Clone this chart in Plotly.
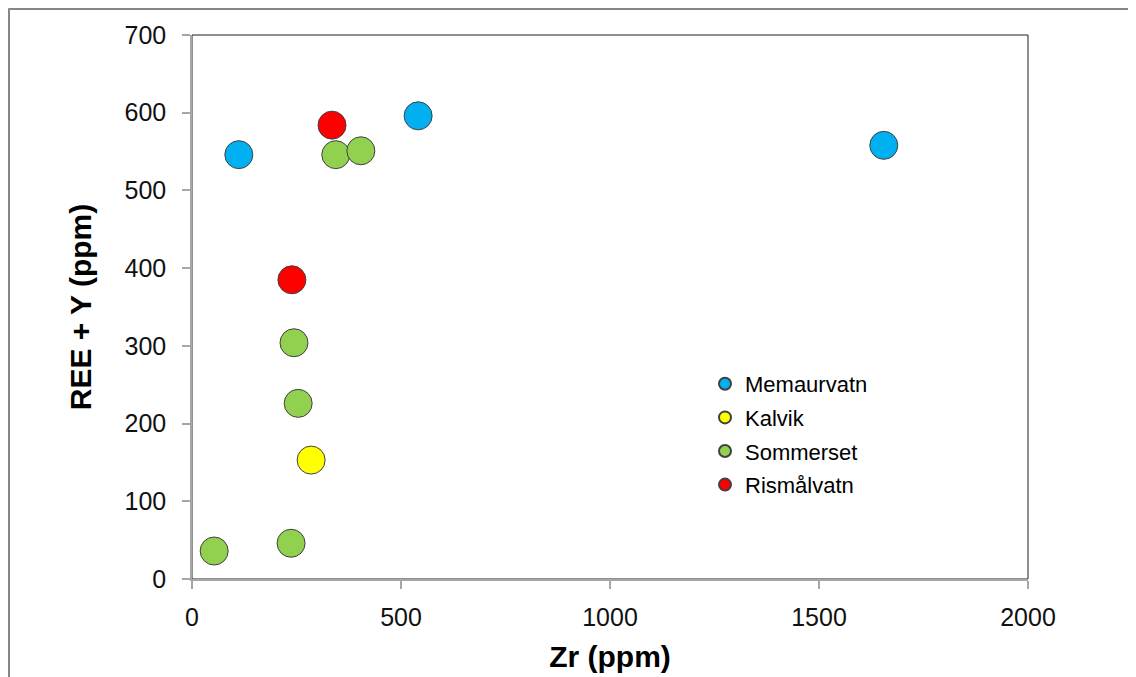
import plotly.graph_objects as go

series_names = ["Memaurvatn", "Kalvik", "Sommerset", "Rismålvatn"]
series_colors = ["#00B0F0", "#FFFF00", "#92D050", "#FF0000"]

memaurvatn_zr = [112, 541, 1655]
memaurvatn_ree = [546, 596, 558]
kalvik_zr = [285]
kalvik_ree = [153]
sommerset_zr = [344, 404, 244, 254, 53, 237]
sommerset_ree = [546, 551, 304, 226, 36, 46]
rismalvatn_zr = [335, 239]
rismalvatn_ree = [584, 385]

xs = [memaurvatn_zr, kalvik_zr, sommerset_zr, rismalvatn_zr]
ys = [memaurvatn_ree, kalvik_ree, sommerset_ree, rismalvatn_ree]

# page has an 8px body offset; compensate
OFF = 8
W, H = 1136, 677
L, T = 192 - OFF, 35 - OFF
pw, ph = 836, 544
R = W - L - pw
B = H - T - ph

fig = go.Figure()
for name, col, x, y in zip(series_names, series_colors, xs, ys):
    fig.add_trace(go.Scatter(
        x=x, y=y, mode="markers", name=name, legendgroup=name,
        marker=dict(size=28, color=col, line=dict(color="#404040", width=1)),
    ))

font_family = "Liberation Sans, Arial, sans-serif"
axis_common = dict(
    showgrid=False, zeroline=False, showline=True, linecolor="#A6A6A6", linewidth=1.5,
    ticks="outside", ticklen=8, tickcolor="#A6A6A6", tickwidth=1.5,
    tickfont=dict(family=font_family, size=25, color="#111111"),
)
fig.update_xaxes(range=[0, 2000], tickvals=[0, 500, 1000, 1500, 2000], ticklabelstandoff=7, **axis_common,
                 title=dict(text="<b>Zr (ppm)</b>", font=dict(family=font_family, size=30, color="#000000"), standoff=16))
fig.update_yaxes(range=[0, 700], tickvals=[0, 100, 200, 300, 400, 500, 600, 700], ticklabelstandoff=11, **axis_common,
                 title=dict(text="<b>REE + Y (ppm)</b>", font=dict(family=font_family, size=30, color="#000000"), standoff=24))

# plot area frame (top/right dark)
fig.add_shape(type="rect", xref="paper", yref="paper", x0=0, y0=0, x1=1, y1=1,
              line=dict(color="#202020", width=1), layer="below")
# outer chart frame (top and left visible)
x_left = (0.5 - L) / pw
y_top = (H - B - 0.5) / ph
fig.add_shape(type="line", xref="paper", yref="paper", x0=x_left, x1=(W - L) / pw + 0.01,
              y0=y_top, y1=y_top, line=dict(color="#868686", width=3))
fig.add_shape(type="line", xref="paper", yref="paper", x0=x_left, x1=x_left,
              y0=y_top, y1=-(B + 5) / ph, line=dict(color="#868686", width=3))

fig.update_layout(
    width=W, height=H,
    margin=dict(l=L, r=R, t=T, b=B),
    paper_bgcolor="white", plot_bgcolor="white",
    font=dict(family=font_family),
    legend=dict(x=(705 - 192) / pw, y=(579 - 363) / ph, xanchor="left", yanchor="top",
                font=dict(family=font_family, size=22, color="#000000"),
                bgcolor="rgba(0,0,0,0)", itemsizing="constant", tracegroupgap=2),
    showlegend=True,
)

fig.write_html("out.html")
